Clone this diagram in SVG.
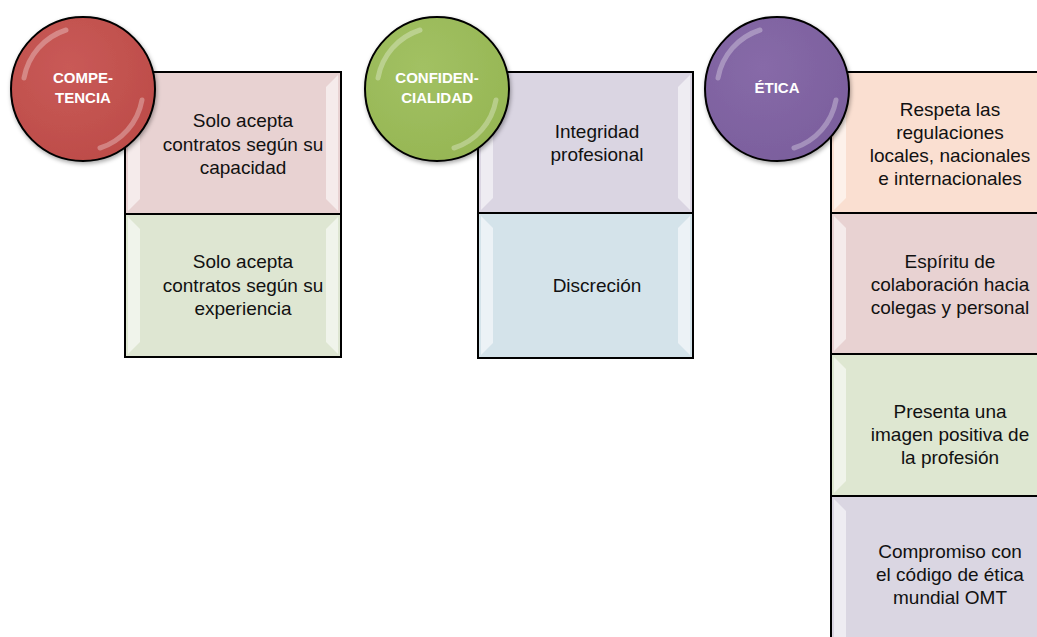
<svg xmlns="http://www.w3.org/2000/svg" width="1037" height="637" viewBox="0 0 1037 637">
<defs>
<style>
.box{stroke:#000;stroke-width:2}
.bev{fill:#fff;opacity:0.55}
.txt{font-family:"Liberation Sans",Arial,sans-serif;font-size:19px;fill:#111;text-anchor:middle}
.ctxt{font-family:"Liberation Sans",Arial,sans-serif;font-size:15px;font-weight:bold;fill:#fff;text-anchor:middle}
.circ{stroke:#000;stroke-width:2}
.hl{fill:none;stroke:#fff;stroke-width:5;opacity:0.3;stroke-linecap:round}
</style>
<radialGradient id="gR" cx="0.4" cy="0.35" r="0.7"><stop offset="0" stop-color="#C95A57"/><stop offset="1" stop-color="#BD4C49"/></radialGradient>
<radialGradient id="gG" cx="0.4" cy="0.35" r="0.7"><stop offset="0" stop-color="#A2C163"/><stop offset="1" stop-color="#96B654"/></radialGradient>
<radialGradient id="gP" cx="0.4" cy="0.35" r="0.7"><stop offset="0" stop-color="#876AA8"/><stop offset="1" stop-color="#7B5F9D"/></radialGradient>
<filter id="sh" x="-20%" y="-20%" width="140%" height="140%"><feDropShadow dx="1" dy="2" stdDeviation="2" flood-opacity="0.35"/></filter>
</defs>
<rect width="1037" height="637" fill="#fff"/>

<g id="competencia-box">
<rect class="box" x="125" y="72" width="216" height="142" fill="#E8D2D2"/>
<polygon class="bev" points="128,75 140,87 140,199 128,211"/>
<polygon class="bev" points="338,75 326,87 326,199 338,211"/>
<rect class="box" x="125" y="214" width="216" height="143" fill="#DEE6D2"/>
<polygon class="bev" points="128,217 140,229 140,342 128,354"/>
<polygon class="bev" points="338,217 326,229 326,342 338,354"/>
<text class="txt" x="243" y="127">Solo acepta</text>
<text class="txt" x="243" y="151">contratos según su</text>
<text class="txt" x="243" y="174">capacidad</text>
<text class="txt" x="243" y="268">Solo acepta</text>
<text class="txt" x="243" y="292">contratos según su</text>
<text class="txt" x="243" y="315">experiencia</text>
</g>

<g id="confidencialidad-box">
<rect class="box" x="478" y="72" width="215" height="141" fill="#DAD5E2"/>
<polygon class="bev" points="481,75 493,87 493,198 481,210"/>
<polygon class="bev" points="690,75 678,87 678,198 690,210"/>
<rect class="box" x="478" y="213" width="215" height="145" fill="#D4E3EA"/>
<polygon class="bev" points="481,216 493,228 493,343 481,355"/>
<polygon class="bev" points="690,216 678,228 678,343 690,355"/>
<text class="txt" x="597" y="138">Integridad</text>
<text class="txt" x="597" y="161">profesional</text>
<text class="txt" x="597" y="292">Discreción</text>
</g>

<g id="etica-box">
<rect class="box" x="831" y="72" width="216" height="141" fill="#FADFD1"/>
<polygon class="bev" points="834,75 846,87 846,198 834,210"/>
<rect class="box" x="831" y="213" width="216" height="141" fill="#E8D2D2"/>
<polygon class="bev" points="834,216 846,228 846,339 834,351"/>
<rect class="box" x="831" y="354" width="216" height="142" fill="#DEE7D1"/>
<polygon class="bev" points="834,357 846,369 846,481 834,493"/>
<rect class="box" x="831" y="496" width="216" height="150" fill="#DAD6E2"/>
<polygon class="bev" points="834,499 846,511 846,637 834,637"/>
<text class="txt" x="950" y="116">Respeta las</text>
<text class="txt" x="950" y="139">regulaciones</text>
<text class="txt" x="950" y="162">locales, nacionales</text>
<text class="txt" x="950" y="185">e internacionales</text>
<text class="txt" x="950" y="268">Espíritu de</text>
<text class="txt" x="950" y="291">colaboración hacia</text>
<text class="txt" x="950" y="314">colegas y personal</text>
<text class="txt" x="950" y="418">Presenta una</text>
<text class="txt" x="950" y="441">imagen positiva de</text>
<text class="txt" x="950" y="464">la profesión</text>
<text class="txt" x="950" y="558">Compromiso con</text>
<text class="txt" x="950" y="581">el código de ética</text>
<text class="txt" x="950" y="604">mundial OMT</text>
</g>

<g id="competencia">
<circle class="circ" cx="83" cy="89" r="72" fill="url(#gR)" filter="url(#sh)"/>
<path class="hl" d="M24,78 A62,62 0 0 1 66,30"/>
<path class="hl" d="M142,100 A62,62 0 0 1 100,148"/>
<text class="ctxt" x="83" y="83">COMPE-</text>
<text class="ctxt" x="83" y="103">TENCIA</text>
</g>

<g id="confidencialidad">
<circle class="circ" cx="437" cy="89" r="72" fill="url(#gG)" filter="url(#sh)"/>
<path class="hl" d="M378,78 A62,62 0 0 1 420,30"/>
<path class="hl" d="M496,100 A62,62 0 0 1 454,148"/>
<text class="ctxt" x="437" y="83">CONFIDEN-</text>
<text class="ctxt" x="437" y="103">CIALIDAD</text>
</g>

<g id="etica">
<circle class="circ" cx="777" cy="89" r="72" fill="url(#gP)" filter="url(#sh)"/>
<path class="hl" d="M718,78 A62,62 0 0 1 760,30"/>
<path class="hl" d="M836,100 A62,62 0 0 1 794,148"/>
<text class="ctxt" x="777" y="93">ÉTICA</text>
</g>

<g id="connectors"></g>
</svg>
